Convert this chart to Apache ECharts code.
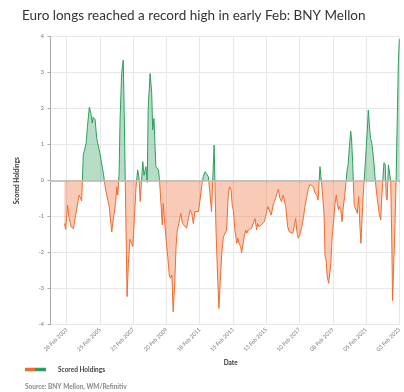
<!DOCTYPE html>
<html><head><meta charset="utf-8">
<script src="https://cdn.jsdelivr.net/npm/echarts@6/dist/echarts.min.js"></script>
<style>html,body{margin:0;padding:0;background:#fff}#c{width:404px;height:392px}</style>
</head><body><div id="c"></div>
<script>
// week offsets from 01 Mar 2002 (weekly category axis)
const weekIndex = [45,49,55,59,66,73,78,83,91,95,99,104,109,113,117,123,128,132,135,141,146,151,156,162,167,174,180,185,193,199,205,209,212,216,219,224,229,232,238,241,245,250,255,259,264,269,274,278,282,290,294,300,304,307,313,318,321,325,328,331,335,339,342,344,347,351,354,357,363,368,373,377,381,385,390,394,398,403,409,414,420,427,432,438,443,448,453,459,464,469,474,479,485,490,495,500,505,513,519,524,528,532,537,542,547,552,557,561,566,570,573,578,584,587,591,596,599,604,607,612,615,620,625,630,636,641,646,649,653,660,664,670,674,681,686,691,695,699,703,709,714,719,724,729,732,737,743,748,753,759,764,768,772,776,781,787,792,797,802,807,813,818,823,828,834,838,844,847,852,857,860,863,867,871,875,878,882,886,891,895,898,902,904,909,913,917,921,929,932,936,940,943,946,951,957,961,965,969,972,976,979,987,992,995,998,1002,1006,1011,1016,1021,1025,1029,1034,1037,1044,1048,1051,1054,1058,1061,1065,1068,1071,1074,1078,1082,1086,1089,1092];
const scoredHoldings = [-1.19,-1.35,-0.68,-1.0,-1.28,-1.33,-1.28,-0.81,-0.40,-0.44,-0.56,0.71,0.74,1.04,1.5,2.04,1.87,1.6,1.76,1.7,1.18,1.15,0.76,0.71,0.2,-0.26,-0.28,-0.72,-1.42,-1.0,-0.63,-0.17,-0.4,0.2,1.68,2.98,3.35,1.87,-1.56,-3.22,-2.3,-1.63,-1.74,-1.83,-1.0,-0.17,0.3,0.1,-0.58,0.53,0.15,0.39,-0.05,2.0,2.98,2.43,1.41,1.73,1.04,0.39,0.43,0.3,0.06,-0.21,-0.17,-1.23,-0.63,-1.0,-1.65,-2.11,-2.62,-2.71,-2.62,-3.64,-2.85,-1.83,-1.37,-1.19,-0.91,-1.19,-1.23,-1.32,-1.09,-0.81,-0.91,-1.19,-0.86,-0.89,-0.86,-0.54,-0.17,0.11,0.25,0.28,0.11,-0.35,-0.86,0.99,-1.37,-2.67,-3.55,-2.85,-2.02,-1.56,-1.51,-1.37,-0.44,-0.17,-0.26,-0.72,-0.81,-1.37,-1.74,-1.6,-1.74,-1.83,-2.0,-1.74,-1.56,-1.37,-1.46,-1.37,-1.42,-1.32,-1.28,-1.05,-1.37,-1.19,-1.28,-1.23,-1.28,-1.14,-1.0,-0.72,-0.68,-0.96,-0.91,-0.63,-0.54,-0.49,-0.24,-0.49,-0.58,-0.40,-0.35,-0.72,-1.28,-1.42,-1.37,-1.46,-1.42,-1.05,-1.42,-1.6,-1.51,-1.28,-1.05,-0.72,-0.49,-0.24,-0.1,-0.07,-0.17,-0.33,-0.4,-0.54,0.39,0.44,-0.35,-1.0,-2.11,-2.2,-2.67,-2.85,-2.87,-2.3,-1.56,-1.19,-0.63,-0.40,-0.63,-0.81,-0.72,-0.81,-1.14,-0.72,-0.44,0.3,0.44,0.94,1.38,1.13,0.53,-0.68,-0.72,-0.91,-0.44,-1.28,-1.74,-1.0,-0.44,0.67,1.41,1.96,1.6,1.18,1.04,0.67,0.11,-0.35,-0.35,-0.91,-1.09,-0.49,0.5,0.44,-0.44,-0.54,0.44,0.39,0.0,-1.37,-3.33,-2.48,-1.37,0.0,1.87,3.26,3.93];
const tickLabels = ['28 Feb 2003','25 Feb 2005','23 Feb 2007','20 Feb 2009','18 Feb 2011','15 Feb 2013','13 Feb 2015','10 Feb 2017','08 Feb 2019','05 Feb 2021','03 Feb 2023'];

const MONTHS = ['Jan','Feb','Mar','Apr','May','Jun','Jul','Aug','Sep','Oct','Nov','Dec'];
const categories = [];
const start = Date.UTC(2002, 2, 1);
for (let i = 0; i <= 1092; i++) {
  const d = new Date(start + i * 7 * 86400000);
  categories.push(String(d.getUTCDate()).padStart(2,'0') + ' ' + MONTHS[d.getUTCMonth()] + ' ' + d.getUTCFullYear());
}
const isTick = (idx, val) => tickLabels.indexOf(categories[idx]) >= 0;
const seriesData = weekIndex.map((w, k) => [w, scoredHoldings[k]]);

const ORANGE = '#ef6b2f', GREEN = '#2e9e5c';
const chart = echarts.init(document.getElementById('c'), null, {renderer: 'canvas'});
chart.setOption({
  animation: false,
  backgroundColor: '#fff',
  title: [
    {text: 'Euro longs reached a record high in early Feb: BNY Mellon', left: 17, top: 4,
     textStyle: {fontFamily: 'Lato', fontSize: 13.5, fontWeight: 'normal', color: '#333'}},
    {text: 'Source: BNY Mellon, WM/Refinitiv', left: 20, top: 378,
     textStyle: {fontFamily: 'Lato', fontSize: 6.5, fontWeight: 'bold', color: '#888'}}
  ],
  grid: {left: 50, right: 4.7, top: 36.7, bottom: 67.3, containLabel: false},
  legend: {
    left: 20, top: 361, itemWidth: 21, itemHeight: 3.5,
    textStyle: {fontFamily: 'Lato', fontSize: 6.5, fontWeight: 'bold', color: '#444', padding: [0,0,0,7]},
    data: [{name: 'Scored Holdings', icon: 'rect',
      itemStyle: {color: new echarts.graphic.LinearGradient(0,0,1,0,[
        {offset:0,color:ORANGE},{offset:0.5,color:ORANGE},{offset:0.5,color:GREEN},{offset:1,color:GREEN}])}}]
  },
  visualMap: {
    type: 'piecewise', show: false, seriesIndex: 0, dimension: 1,
    pieces: [{gte: -10, lt: 0, color: ORANGE}, {gte: 0, lte: 10, color: GREEN}]
  },
  xAxis: {
    type: 'category', data: categories, boundaryGap: false,
    name: 'Date', nameLocation: 'middle', nameGap: 31,
    nameTextStyle: {fontFamily: 'Lato', fontSize: 6.5, fontWeight: 'bold', color: '#333', padding: [0,0,0,12]},
    axisLine: {lineStyle: {color: '#bbb', width: 1.5}},
    axisTick: {show: true, interval: isTick, length: 2, lineStyle: {color: '#bbb'}},
    axisLabel: {interval: isTick, rotate: 45, fontSize: 5.5, color: '#777', margin: 4, fontFamily: 'Lato'},
    splitLine: {show: true, interval: isTick, lineStyle: {color: '#e8e8e8', width: 1}}
  },
  yAxis: {
    type: 'value', min: -4, max: 4, interval: 1,
    name: 'Scored Holdings', nameLocation: 'middle', nameGap: 30,
    nameTextStyle: {fontFamily: 'Lato', fontSize: 6.5, fontWeight: 'bold', color: '#333'},
    axisLine: {show: true, lineStyle: {color: '#aaa', width: 1}},
    axisTick: {show: true, length: 2.5, lineStyle: {color: '#aaa'}},
    axisLabel: {fontSize: 5.5, color: '#777', margin: 6, fontFamily: 'Lato'},
    splitLine: {lineStyle: {color: '#e8e8e8', width: 1}}
  },
  series: [{
    name: 'Scored Holdings', type: 'line', data: seriesData,
    showSymbol: false, symbol: 'none', lineStyle: {width: 1},
    areaStyle: {opacity: 0.35},
    markLine: {silent: true, symbol: 'none', label: {show: false},
      lineStyle: {color: '#c4c4c4', width: 1.5, type: 'solid'}, data: [{yAxis: 0}]}
  }]
});
</script></body></html>
